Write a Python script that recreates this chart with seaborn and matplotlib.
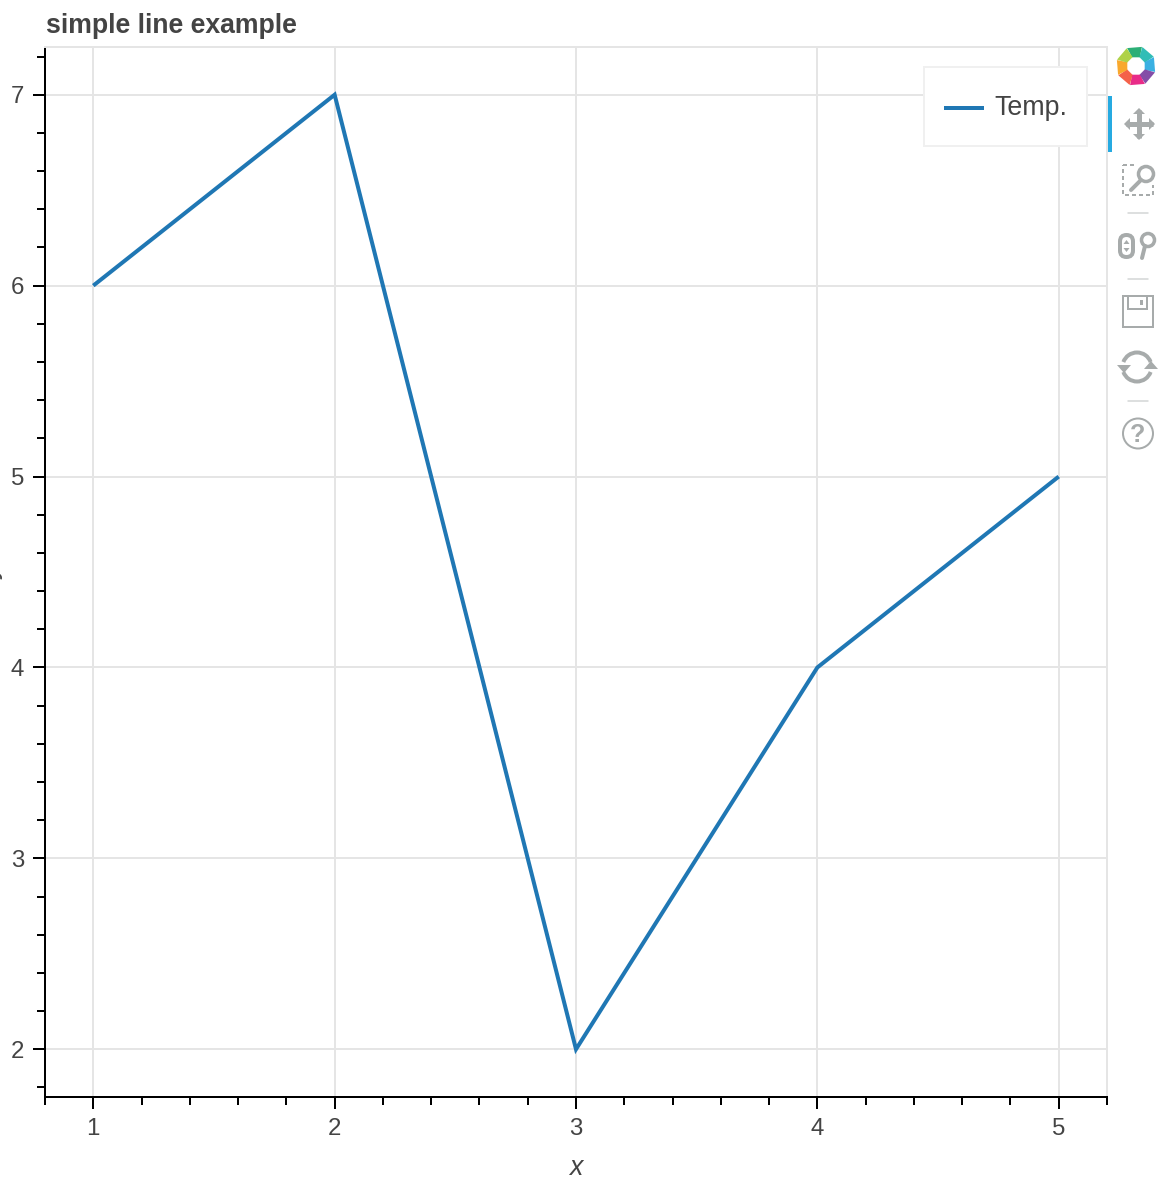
import numpy as np
import pandas as pd
import matplotlib
matplotlib.use("Agg")
import matplotlib.pyplot as plt
import seaborn as sns
from matplotlib.patches import Arc, Circle, FancyBboxPatch, Polygon, Rectangle
from matplotlib.ticker import MultipleLocator

x_values = [1, 2, 3, 4, 5]
temp_values = [6, 7, 2, 4, 5]
series_name = "Temp."
chart_title = "simple line example"

TEXT = "#444444"
GRID = "#e5e5e5"
LINE = "#1f77b4"
ICON = "#a7abab"
PX = 0.72  # one pixel in points at dpi 100

sns.set_theme(style="whitegrid")
plt.rcParams["font.family"] = ["Liberation Sans", "DejaVu Sans"]

df = pd.DataFrame({"x": x_values, "temp": temp_values})

W, H = 1166, 1184
fig = plt.figure(figsize=(W / 100, H / 100), dpi=100, facecolor="white")
L, R, T, B = 45, 1107, 47, 1097
ax = fig.add_axes([L / W, 1 - B / H, (R - L) / W, (B - T) / H])

sns.lineplot(data=df, x="x", y="temp", color=LINE, linewidth=4 * PX, label=series_name,
             estimator=None, ax=ax, solid_joinstyle="miter", solid_capstyle="butt")

ax.set_xlim(0.8, 5.2)
ax.set_ylim(1.75, 7.25)
ax.xaxis.set_major_locator(MultipleLocator(1))
ax.yaxis.set_major_locator(MultipleLocator(1))
ax.xaxis.set_minor_locator(MultipleLocator(0.2))
ax.yaxis.set_minor_locator(MultipleLocator(0.2))
ax.grid(which="major", color=GRID, linewidth=2 * PX)
ax.grid(which="minor", visible=False)
ax.set_axisbelow(True)

for side in ["left", "bottom"]:
    ax.spines[side].set_color("black")
    ax.spines[side].set_linewidth(2 * PX)
for side in ["top", "right"]:
    ax.spines[side].set_color(GRID)
    ax.spines[side].set_linewidth(2 * PX)

ax.tick_params(which="major", direction="out", length=12 * PX, width=2 * PX, color="black",
               labelsize=17.3, labelcolor=TEXT, left=True, bottom=True)
ax.tick_params(axis="x", which="major", pad=6.8)
ax.tick_params(axis="y", which="major", pad=6.5)
ax.tick_params(which="minor", direction="out", length=8 * PX, width=2 * PX, color="black",
               left=True, bottom=True)

# bokeh major ticks also poke a little way inside the frame
sec_x = ax.secondary_xaxis(0)
sec_y = ax.secondary_yaxis(0)
for sec in (sec_x, sec_y):
    sec.tick_params(which="major", direction="in", length=4 * PX, width=2 * PX, color="black",
                    labelbottom=False, labelleft=False)
    sec.spines[:].set_visible(False)
sec_x.xaxis.set_major_locator(MultipleLocator(1))
sec_y.yaxis.set_major_locator(MultipleLocator(1))

ax.set_title(chart_title, loc="left", fontsize=19.2, fontweight="bold", color=TEXT, pad=10, x=0.001)
ax.set_xlabel("x", fontsize=19.3, style="italic", color=TEXT, labelpad=10.5)
ax.set_ylabel("")

leg = ax.legend(loc="upper right", bbox_to_anchor=((1087 - L) / (R - L), 1 - (67 - T) / (B - T)),
                borderaxespad=0, fontsize=19.3, labelcolor=TEXT, fancybox=False, framealpha=1,
                edgecolor="#f0f0f0", facecolor="white", handlelength=1.49, handletextpad=0.41,
                borderpad=0.72, labelspacing=0, handleheight=1.93)
leg.get_frame().set_linewidth(2 * PX)
# the tall handle box lifts the sample line, bring it back level with the label
handle = leg.legend_handles[0]
handle.set_ydata(np.asarray(handle.get_ydata()) - 5)

# toolbar, drawn in pixel coordinates
tb = fig.add_axes([0, 0, 1, 1], facecolor="none")
tb.set_xlim(0, W)
tb.set_ylim(H, 0)
tb.axis("off")

tb.text(5, 572, "y", rotation=90, ha="right", va="center", fontsize=19.3, style="italic", color=TEXT)

tb.add_patch(Rectangle((1108, 96), 4, 56, color="#26aae1", lw=0))

# logo, clockwise from the top
petals = ["#1aa86a", "#1fb8b0", "#29a9e0", "#7a3fa0", "#e6197e", "#f4553a", "#f9a11b", "#a8cf38"]
for k, colour in enumerate(petals):
    a = np.radians(90 - 45 * k)
    corners = [(9.5, a - 0.42), (20, a - 0.30), (20, a + 0.46), (9.5, a + 0.42)]
    pts = [(1136 + r * np.cos(t), 66 - r * np.sin(t)) for r, t in corners]
    tb.add_patch(Polygon(pts, color=colour, lw=0, alpha=0.92))

# pan
tb.plot([1126, 1153], [124, 124], color=ICON, lw=5 * PX, solid_capstyle="butt")
tb.plot([1139, 1139], [110, 138], color=ICON, lw=5 * PX, solid_capstyle="butt")
for pts in ([(1124, 124), (1130, 118), (1130, 130)], [(1155, 124), (1149, 118), (1149, 130)],
            [(1139, 108), (1133, 114), (1145, 114)], [(1139, 140), (1133, 134), (1145, 134)]):
    tb.add_patch(Polygon(pts, color=ICON, lw=0))

# box zoom
tb.add_patch(Rectangle((1123, 165), 30, 30, fill=False, ec=ICON, lw=2 * PX, ls=(0, (2, 1.5))))
tb.add_patch(Rectangle((1134, 160), 24, 25, color="white", lw=0))
tb.add_patch(Circle((1146, 174), 7.5, fill=False, ec=ICON, lw=3.5 * PX))
tb.plot([1141, 1131], [180, 190], color=ICON, lw=4 * PX)

# wheel zoom
tb.add_patch(FancyBboxPatch((1120, 235), 13, 22, boxstyle="round,pad=0,rounding_size=6.5",
                            fill=False, ec=ICON, lw=4 * PX))
tb.add_patch(Polygon([(1126.5, 240), (1123.5, 244), (1129.5, 244)], color=ICON, lw=0))
tb.add_patch(Polygon([(1126.5, 252), (1123.5, 248), (1129.5, 248)], color=ICON, lw=0))
tb.add_patch(Circle((1148, 240), 6.5, fill=False, ec=ICON, lw=3.5 * PX))
tb.plot([1145, 1142], [246, 258], color=ICON, lw=4 * PX)

# save
tb.add_patch(Rectangle((1123, 296), 30, 31, fill=False, ec=ICON, lw=2 * PX))
tb.add_patch(Rectangle((1128, 296), 19, 13, fill=False, ec=ICON, lw=2 * PX))
tb.add_patch(Rectangle((1140, 300), 3, 5, color=ICON, lw=0))

# reset
tb.add_patch(Arc((1137, 367), 29, 29, theta1=200, theta2=340, ec=ICON, lw=4 * PX))
tb.add_patch(Arc((1137, 367), 29, 29, theta1=20, theta2=160, ec=ICON, lw=4 * PX))
tb.add_patch(Polygon([(1117, 365), (1131, 365), (1124, 373)], color=ICON, lw=0))
tb.add_patch(Polygon([(1144, 369), (1158, 369), (1151, 361)], color=ICON, lw=0))

# help
tb.add_patch(Circle((1138, 433.5), 15, fill=False, ec=ICON, lw=2 * PX))
tb.text(1138, 434.5, "?", ha="center", va="center", fontsize=18, fontweight="bold", color=ICON)

# separators
for sep_y in (213, 279, 401):
    tb.plot([1128, 1148], [sep_y, sep_y], color="#d3d5d5", lw=1.5 * PX)

tb.set_xlim(0, W)
tb.set_ylim(H, 0)

fig.savefig("out.png", dpi=100)
